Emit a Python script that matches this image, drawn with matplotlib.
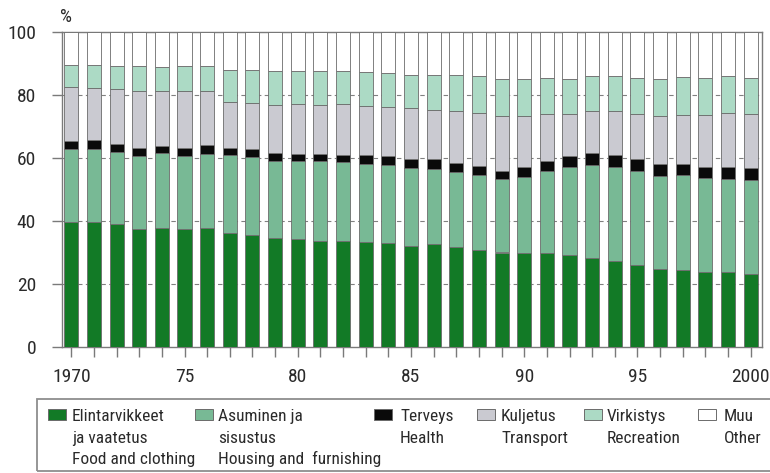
import matplotlib

matplotlib.use("Agg")
import matplotlib.pyplot as plt
import numpy as np
from matplotlib import font_manager
from matplotlib.patches import Rectangle


YEARS = list(range(1970, 2001))

# shares of household consumption, %
FOOD = [39.8, 39.8, 39.0, 37.4, 37.7, 37.5, 37.8, 36.1, 35.5, 34.7, 34.3,
        33.6, 33.6, 33.2, 33.0, 32.1, 32.6, 31.8, 30.7, 30.0, 29.7,
        29.9, 29.3, 28.3, 27.4, 26.0, 24.8, 24.6, 23.9, 23.9, 23.1]
HOUSING = [22.9, 23.0, 22.8, 23.1, 23.8, 23.2, 23.6, 24.9, 24.9, 24.5, 24.9,
           25.3, 25.1, 24.8, 24.8, 24.8, 24.0, 23.7, 23.8, 23.4, 24.4,
           26.1, 27.9, 29.5, 29.9, 30.0, 29.6, 30.0, 29.7, 29.4, 29.9]
HEALTH = [2.8, 2.8, 2.8, 2.7, 2.4, 2.5, 2.7, 2.3, 2.4, 2.5, 2.2,
          2.4, 2.3, 2.8, 2.8, 2.9, 3.0, 3.0, 3.0, 2.6, 3.1,
          3.2, 3.4, 3.9, 3.7, 3.8, 3.6, 3.4, 3.6, 3.7, 3.8]
TRANSPORT = [17.0, 16.6, 17.4, 18.2, 17.3, 18.1, 17.1, 14.6, 14.7, 15.2, 15.7,
             15.6, 16.0, 15.7, 15.7, 16.1, 15.5, 16.3, 16.8, 17.4, 16.2,
             14.7, 13.5, 13.2, 13.9, 14.2, 15.4, 15.7, 16.3, 17.2, 17.1]
RECREATION = [6.9, 7.2, 7.1, 7.7, 7.8, 7.9, 8.0, 10.0, 10.3, 10.8, 10.6,
              10.7, 10.6, 10.7, 10.7, 10.6, 11.3, 11.4, 11.7, 11.8, 11.8,
              11.5, 11.1, 11.0, 11.0, 11.5, 11.8, 12.0, 12.0, 11.8, 11.5]
OTHER = [10.6, 10.6, 10.9, 10.9, 11.0, 10.8, 10.8, 12.1, 12.2, 12.3, 12.3,
         12.4, 12.4, 12.8, 13.0, 13.5, 13.6, 13.8, 14.0, 14.8, 14.8,
         14.6, 14.8, 14.1, 14.1, 14.5, 14.8, 14.3, 14.5, 14.0, 14.6]

X_TICK_LABELS = {1970: "1970", 1975: "75", 1980: "80", 1985: "85",
                 1990: "90", 1995: "95", 2000: "2000"}
Y_TICKS = [0, 20, 40, 60, 80, 100]

LEGEND_TEXTS = [
    "Elintarvikkeet\nja vaatetus\nFood and clothing",
    "Asuminen ja\nsisustus\nHousing and  furnishing",
    "Terveys\nHealth",
    "Kuljetus\nTransport",
    "Virkistys\nRecreation",
    "Muu\nOther",
]

COLORS = ("#127a26", "#78b995", "#0a0a0a", "#cacad1", "#acdac5", "#ffffff")
EDGE_COLOR = "#6b6b6b"
AXIS_COLOR = "#7a7a7a"
TEXT_COLOR = "#2a2a2a"

# the original uses a condensed grotesque; take the first narrow face we have
CONDENSED_CANDIDATES = (
    "Roboto Condensed",
    "Archivo Narrow",
    "PT Sans Narrow",
    "Fira Sans Condensed",
    "IBM Plex Sans Condensed",
    "Sofia Sans Condensed",
    "Liberation Sans Narrow",
)

W, H = 770, 473


def _pick_font() -> list[str]:
    installed = {f.name for f in font_manager.fontManager.ttflist}
    picked = [name for name in CONDENSED_CANDIDATES if name in installed][:1]
    return picked + ["Liberation Sans", "DejaVu Sans"]


def _fig_xy(x_px, y_px):
    # pixel position measured from the top-left -> figure fraction
    return x_px / W, 1 - y_px / H


def draw_legend(fig, font):
    x0, y0 = _fig_xy(37, 471)
    box = Rectangle((x0, y0), (800 - 37) / W, (471 - 399) / H,
                    transform=fig.transFigure, fill=False,
                    edgecolor="#8e8e8e", linewidth=1.3)
    fig.patches.append(box)

    # square left edge, text left edge (px)
    slots = [(48, 72), (195, 218), (374, 400), (477, 501), (584, 607), (698, 724)]
    for (sq_x, tx_x), label, color in zip(slots, LEGEND_TEXTS, COLORS):
        sx, sy = _fig_xy(sq_x, 420)
        fig.patches.append(Rectangle((sx, sy), 18 / W, 11 / H,
                                     transform=fig.transFigure,
                                     facecolor=color, edgecolor=EDGE_COLOR,
                                     linewidth=0.7))
        for k, line in enumerate(label.split("\n")):
            tx, ty = _fig_xy(tx_x, 421 + 21.5 * k)
            fig.text(tx, ty, line, ha="left", va="baseline", fontsize=12.5,
                     color=TEXT_COLOR, family=font)


def main():
    font = _pick_font()
    plt.rcParams["font.family"] = font

    fig = plt.figure(figsize=(W / 100, H / 100), dpi=100)
    left, bottom = _fig_xy(62, 347)
    right, top = _fig_xy(762, 32)
    ax = fig.add_axes([left, bottom, right - left, top - bottom])

    series = [FOOD, HOUSING, HEALTH, TRANSPORT, RECREATION, OTHER]
    base = np.zeros(len(YEARS))
    for values, color in zip(series, COLORS):
        ax.bar(YEARS, values, bottom=base, width=0.62, color=color,
               edgecolor=EDGE_COLOR, linewidth=0.6, zorder=3)
        base = base + np.array(values)

    ax.set_xlim(1969.59, 2000.5)
    ax.set_ylim(0, 100)

    for y in Y_TICKS[1:-1]:
        ax.axhline(y, color="#808080", linewidth=0.8,
                   linestyle=(0, (4, 3)), zorder=1)

    ax.set_xticks(YEARS)
    ax.set_xticklabels([X_TICK_LABELS.get(y, "") for y in YEARS])
    ax.set_yticks(Y_TICKS)
    ax.set_yticklabels([str(v) for v in Y_TICKS])

    for spine in ax.spines.values():
        spine.set_color(AXIS_COLOR)
        spine.set_linewidth(1.0)
    ax.tick_params(axis="both", direction="out", length=7.2, width=1.0,
                   colors=AXIS_COLOR, labelcolor=TEXT_COLOR, labelsize=14)
    ax.tick_params(axis="x", pad=8)
    ax.tick_params(axis="y", pad=11.5)

    px, py = _fig_xy(60, 22)
    fig.text(px, py, "%", ha="left", va="baseline", fontsize=13.5,
             color=TEXT_COLOR)

    draw_legend(fig, font)

    fig.savefig("out.png", dpi=100, facecolor="white")
    plt.close(fig)


if __name__ == "__main__":
    main()
